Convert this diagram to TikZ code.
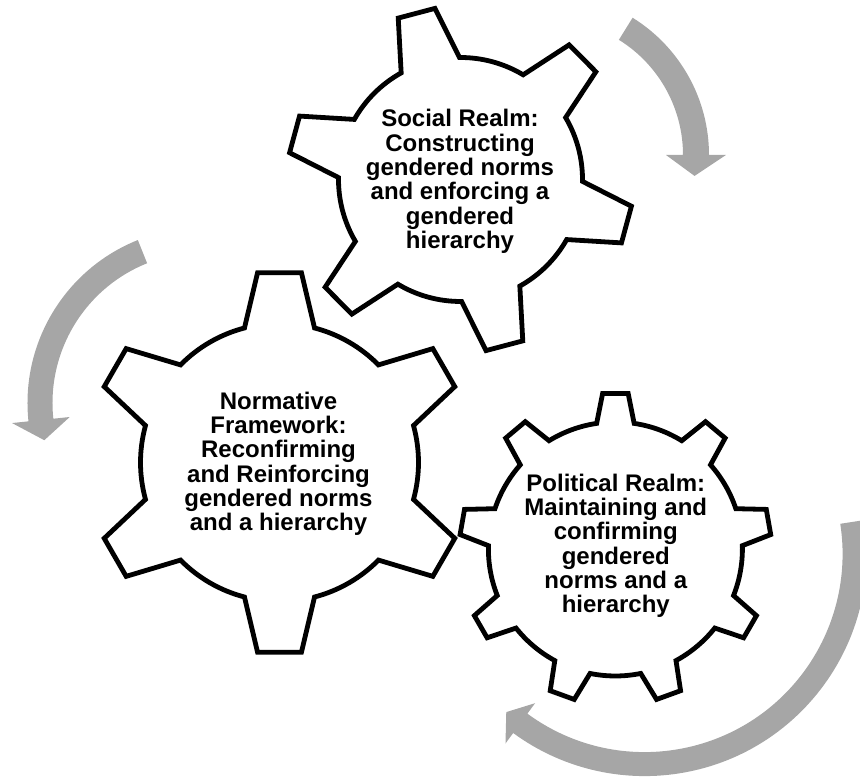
\documentclass[tikz,border=0pt]{standalone}
\usepackage{fontspec}
\setmainfont{Liberation Sans}
\definecolor{arrowgray}{HTML}{A6A6A6}
\tikzset{
  gearline/.style={line width=4.8pt, line join=miter},
  cyclearrow/.style={fill=arrowgray, draw=none},
  realm/.style={align=center, inner sep=0pt, font=\bfseries\fontsize{24}{24.3}\selectfont}
}

% gear: centre x, centre y, teeth, tip radius, root radius, tip half angle, root half angle, turn
\newcommand{\drawgear}[8]{%
  \pgfmathsetmacro{\gearstep}{360/#3}%
  \pgfmathtruncatemacro{\gearlast}{#3-1}%
  \begin{scope}[shift={(#1,#2)}]
    \draw[gearline] ({#8-#7}:#5)
      \foreach \k in {0,...,\gearlast} {
        -- ({#8+\k*\gearstep-#6}:#4) -- ({#8+\k*\gearstep+#6}:#4)
        -- ({#8+\k*\gearstep+#7}:#5)
        arc[start angle={#8+\k*\gearstep+#7}, end angle={#8+(\k+1)*\gearstep-#7}, radius=#5]
      } -- cycle;%
  \end{scope}}

% arrow: centre x, centre y, radius, half width, tail angle, head angle, tip angle, head half width
\newcommand{\drawcyclearrow}[8]{%
  \pgfmathsetmacro{\arcout}{#3+#4}%
  \pgfmathsetmacro{\arcin}{#3-#4}%
  \pgfmathsetmacro{\headout}{#3+#8}%
  \pgfmathsetmacro{\headin}{#3-#8}%
  \begin{scope}[shift={(#1,#2)}]
    \fill[cyclearrow] (#5:\arcout) arc[start angle=#5, end angle=#6, radius=\arcout]
      -- (#6:\headout) -- (#7:#3) -- (#6:\headin) -- (#6:\arcin)
      arc[start angle=#6, end angle=#5, radius=\arcin] -- cycle;%
  \end{scope}}

\begin{document}
\begin{tikzpicture}[x=1pt, y=1pt]
  \useasboundingbox (0,0) rectangle (860,778);

  % Drawing arrow over the social gear
  \drawcyclearrow{547.5}{623.0}{148.5}{13.0}{58.2}{0.0}{-8.1}{30.0}

  % Drawing arrow left of the normative gear
  \drawcyclearrow{203.0}{375.0}{163.0}{12.5}{111.8}{186.0}{193.2}{29.0}

  % Drawing arrow round the political gear
  \drawcyclearrow{644.6}{223.9}{210.0}{12.0}{8.8}{-126.3}{-131.2}{25.0}

  % Drawing gear social
  \drawgear{460.5}{598.5}{6}{173.0}{122.0}{6.3}{14.3}{44.8}

  % Drawing gear normative
  \drawgear{279.5}{315.5}{6}{191.0}{139.0}{6.6}{14.6}{30.0}

  % Drawing gear political
  \drawgear{615.4}{229.0}{9}{156.0}{127.0}{4.7}{8.5}{10.0}

  % Marking social realm
  \node[realm] (social) at (460.0,596.5) {Social Realm:\\Constructing\\gendered norms\\and enforcing a\\gendered\\hierarchy};%

  % Marking normative framework
  \node[realm] (normative) at (278.5,314.2) {Normative\\Framework:\\Reconfirming\\and Reinforcing\\gendered norms\\and a hierarchy};%

  % Marking political realm
  \node[realm] (political) at (615.8,232.2) {Political Realm:\\Maintaining and\\confirming\\gendered\\norms and a\\hierarchy};%
\end{tikzpicture}
\end{document}
